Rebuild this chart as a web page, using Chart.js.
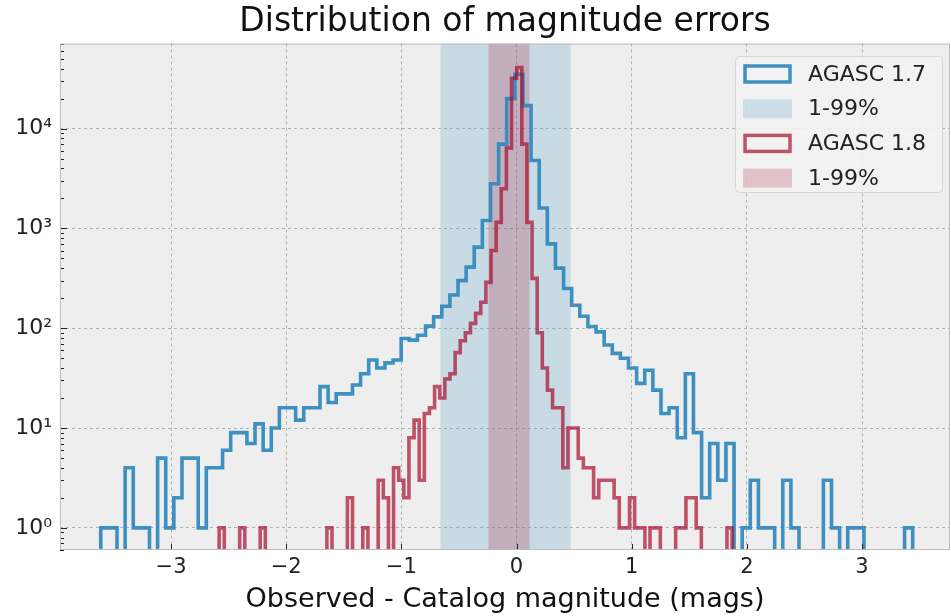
<!DOCTYPE html>
<html>
<head>
<meta charset="utf-8">
<title>Distribution of magnitude errors</title>
<script src="https://cdn.jsdelivr.net/npm/chart.js@4.4.0/dist/chart.umd.min.js"></script>
<style>
  html, body { margin: 0; padding: 0; background: #ffffff; }
  #wrap { width: 951px; height: 616px; }
</style>
</head>
<body>
<div id="wrap"><canvas id="histChart" width="951" height="616"></canvas></div>
<script>
// AGASC 1.7 histogram: first bin edge, bin width (mags) and counts per bin
const blueStart = -3.61;
const blueWidth = 0.0705;
const blueCounts = [
    1, 1, 0, 4, 1, 1, 0, 5, 1, 2,
    5, 5, 1, 4, 4, 6, 9, 9, 7, 11,
    6, 10, 16, 16, 12, 16, 16, 26, 18, 22,
    22, 27, 35, 48, 40, 45, 48, 79, 76, 85,
    105, 130, 166, 215, 300, 410, 650, 1200, 2800, 7000,
    20000, 35000, 17000, 4800, 1600, 700, 400, 250, 170, 132,
    104, 92, 68, 56, 50, 40, 28, 38, 24, 14,
    16, 8, 35, 9, 2, 7, 3, 7, 0, 1,
    3, 1, 1, 0, 3, 1, 0, 0, 0, 3,
    1, 0, 1, 1, 0, 0, 0, 0, 0, 1
];

// AGASC 1.8 histogram
const redStart = -2.582;
const redWidth = 0.04454;
const redCounts = [
    1, 0, 0, 0, 1, 0, 0, 0, 1, 0,
    0, 0, 0, 0, 0, 0, 0, 0, 0, 0,
    0, 1, 0, 0, 0, 2, 0, 0, 1, 0,
    0, 3, 2, 0, 4, 3, 2, 8, 12, 3,
    14, 16, 26, 20, 31, 35, 57, 75, 90, 112,
    141, 182, 288, 600, 1150, 2500, 6400, 32000, 41000, 7000,
    1150, 316, 90, 40, 24, 16, 16, 4, 10, 10,
    5, 4, 4, 2, 3, 3, 3, 2, 1, 1,
    2, 1, 1, 0, 1, 1, 0, 0, 0, 1,
    1, 2, 2, 1, 0, 0, 0, 0, 0, 1
];

// 1-99% ranges (shaded spans)
const blueRange = [-0.66, 0.47];
const redRange = [-0.243, 0.113];

const xTicks = [-3, -2, -1, 0, 1, 2, 3];
const yTicks = [1, 10, 100, 1000, 10000];
const yTickLabels = ['10\u2070', '10\u00b9', '10\u00b2', '10\u00b3', '10\u2074'];
const legendLabels = ['AGASC 1.7', '1-99%', 'AGASC 1.8', '1-99%'];

const BLUE = 'rgba(52, 138, 189, 0.95)';
const RED = 'rgba(166, 6, 40, 0.68)';
const BLUE_SPAN = 'rgba(52, 138, 189, 0.2)';
const RED_SPAN = 'rgba(166, 6, 40, 0.2)';
const FLOOR = 0.01; // empty bins fall below the axis and get clipped
const FONT = '"DejaVu Sans", "Liberation Sans", sans-serif';

// outline of a step histogram: up at the first edge, across each bin, down at the last edge
function stepPoints(start, width, counts) {
    const pts = [{ x: start, y: FLOOR }];
    counts.forEach((c, i) => {
        pts.push({ x: start + i * width, y: c > 0 ? c : FLOOR });
    });
    const end = start + counts.length * width;
    const last = counts[counts.length - 1];
    pts.push({ x: end, y: last > 0 ? last : FLOOR });
    pts.push({ x: end, y: FLOOR });
    return pts;
}

const backgroundPlugin = {
    id: 'plotBackground',
    beforeDraw(chart) {
        const { ctx, chartArea: a } = chart;
        ctx.save();
        ctx.fillStyle = '#eeeeee';
        ctx.fillRect(a.left, a.top, a.right - a.left, a.bottom - a.top);
        ctx.restore();
    }
};

const spanPlugin = {
    id: 'rangeSpans',
    beforeDatasetsDraw(chart) {
        const { ctx, chartArea: a, scales } = chart;
        ctx.save();
        [[blueRange, BLUE_SPAN], [redRange, RED_SPAN]].forEach(([r, col]) => {
            const x1 = scales.x.getPixelForValue(r[0]);
            const x2 = scales.x.getPixelForValue(r[1]);
            ctx.fillStyle = col;
            ctx.fillRect(x1, a.top, x2 - x1, a.bottom - a.top);
        });
        ctx.restore();
    }
};

const tickPlugin = {
    id: 'innerTicks',
    afterDatasetsDraw(chart) {
        const { ctx, chartArea: a, scales } = chart;
        ctx.save();
        ctx.strokeStyle = '#222222';
        ctx.lineWidth = 1;
        ctx.beginPath();
        // major x ticks along the bottom
        xTicks.forEach(v => {
            const px = Math.round(scales.x.getPixelForValue(v)) + 0.5;
            ctx.moveTo(px, a.bottom);
            ctx.lineTo(px, a.bottom - 6);
        });
        // major and minor y ticks along the left edge
        for (let d = -1; d <= 4; d++) {
            for (let m = 1; m <= 9; m++) {
                const v = m * Math.pow(10, d);
                if (v < scales.y.min || v > scales.y.max) continue;
                const py = Math.round(scales.y.getPixelForValue(v)) + 0.5;
                ctx.moveTo(a.left, py);
                ctx.lineTo(a.left + (m === 1 ? 7 : 4), py);
            }
        }
        ctx.stroke();
        ctx.strokeStyle = '#bcbcbc';
        ctx.strokeRect(a.left + 0.5, a.top + 0.5, a.right - a.left - 1, a.bottom - a.top - 1);
        ctx.restore();
    }
};

const legendPlugin = {
    id: 'boxLegend',
    afterDraw(chart) {
        const { ctx } = chart;
        const box = { x: 735, y: 56, w: 207, h: 136 };
        ctx.save();
        ctx.beginPath();
        ctx.roundRect(box.x + 0.5, box.y + 0.5, box.w, box.h, 4);
        ctx.fillStyle = 'rgba(242, 242, 242, 0.85)';
        ctx.fill();
        ctx.strokeStyle = '#d6d6d6';
        ctx.lineWidth = 1;
        ctx.stroke();

        const styles = [
            { stroke: BLUE }, { fill: BLUE_SPAN },
            { stroke: RED }, { fill: RED_SPAN }
        ];
        legendLabels.forEach((label, i) => {
            const cy = 74 + i * 34.7;
            const st = styles[i];
            if (st.stroke) {
                ctx.strokeStyle = st.stroke;
                ctx.lineWidth = 3.5;
                ctx.strokeRect(745, cy - 8, 45, 16);
            } else {
                ctx.fillStyle = st.fill;
                ctx.fillRect(743, cy - 9.5, 49, 19);
            }
            ctx.fillStyle = '#222222';
            ctx.font = '22px ' + FONT;
            ctx.textBaseline = 'middle';
            ctx.fillText(label, 808, cy + 1);
        });
        ctx.restore();
    }
};

const ctx = document.getElementById('histChart').getContext('2d');
const histChart = new Chart(ctx, {
    type: 'line',
    data: {
        datasets: [
            {
                label: legendLabels[0],
                data: stepPoints(blueStart, blueWidth, blueCounts),
                borderColor: BLUE,
                borderWidth: 3.6,
                order: 2
            },
            {
                label: legendLabels[2],
                data: stepPoints(redStart, redWidth, redCounts),
                borderColor: RED,
                borderWidth: 3.6,
                order: 1
            }
        ]
    },
    options: {
        responsive: false,
        animation: false,
        layout: { padding: { left: 0, right: 1, top: 0, bottom: 0 } },
        elements: {
            point: { radius: 0, hoverRadius: 0 },
            line: { stepped: true, tension: 0, fill: false, borderJoinStyle: 'miter', borderCapStyle: 'butt' }
        },
        datasets: { line: { clip: 0 } },
        plugins: {
            legend: { display: false },
            tooltip: { enabled: false },
            title: {
                display: true,
                fullSize: false,
                text: 'Distribution of magnitude errors',
                color: '#111111',
                font: { family: FONT, size: 33, weight: 'normal' },
                padding: { top: 3, bottom: 1 }
            }
        },
        scales: {
            x: {
                type: 'linear',
                min: -3.964,
                max: 3.764,
                afterBuildTicks: scale => { scale.ticks = xTicks.map(v => ({ value: v })); },
                afterFit: scale => { scale.height = 66; },
                grid: { color: '#b2b2b2', lineWidth: 1, drawTicks: false },
                border: { display: false, dash: [3, 3] },
                ticks: {
                    color: '#222222',
                    font: { family: FONT, size: 21 },
                    padding: 5,
                    maxRotation: 0,
                    callback: v => (v < 0 ? '\u2212' + Math.abs(v) : String(v))
                },
                title: {
                    display: true,
                    text: 'Observed - Catalog magnitude (mags)',
                    color: '#111111',
                    font: { family: FONT, size: 27 },
                    padding: { top: 0, bottom: 0 }
                }
            },
            y: {
                type: 'logarithmic',
                min: 0.602,
                max: 71100,
                afterBuildTicks: scale => { scale.ticks = yTicks.map(v => ({ value: v })); },
                afterFit: scale => { scale.width = 60; },
                grid: { color: '#b2b2b2', lineWidth: 1, drawTicks: false },
                border: { display: false, dash: [3, 3] },
                ticks: {
                    color: '#222222',
                    font: { family: FONT, size: 22 },
                    padding: 8,
                    callback: (v, i) => yTickLabels[i]
                }
            }
        }
    },
    plugins: [backgroundPlugin, spanPlugin, tickPlugin, legendPlugin]
});
</script>
</body>
</html>
